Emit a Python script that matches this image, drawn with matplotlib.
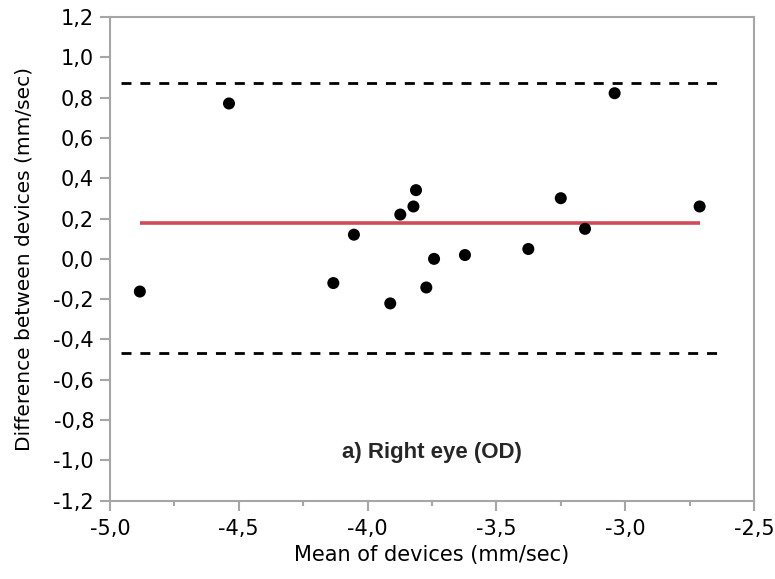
import matplotlib
matplotlib.use("Agg")
import matplotlib.pyplot as plt
from matplotlib.ticker import MultipleLocator, FuncFormatter

# Data
mean_devices = [-4.884, -4.538, -4.133, -4.053, -3.912, -3.873, -3.822, -3.812,
                -3.772, -3.742, -3.622, -3.376, -3.250, -3.156, -3.041, -2.711]
diff_devices = [-0.162, 0.771, -0.120, 0.120, -0.221, 0.220, 0.260, 0.341,
                -0.142, 0.000, 0.019, 0.049, 0.301, 0.149, 0.822, 0.260]
mean_diff = 0.178
upper_loa = 0.875
lower_loa = -0.465
loa_x_range = [-4.957, -2.615]

title_text = "a) Right eye (OD)"
xlabel_text = "Mean of devices (mm/sec)"
ylabel_text = "Difference between devices (mm/sec)"

fig = plt.figure(figsize=(7.75, 5.79), dpi=100)
ax = fig.add_axes([0.1419, 0.1352, 0.9729 - 0.1419, 0.9706 - 0.1352])

gray = "#a6a6a6"
ax.hlines([upper_loa, lower_loa], loa_x_range[0], loa_x_range[1],
          colors="black", linestyles=(0, (3.6, 3.2)), linewidth=2.0, zorder=2)
ax.hlines(mean_diff, min(mean_devices), max(mean_devices),
          colors="#d04a5a", linewidth=2.6, zorder=2)
ax.scatter(mean_devices, diff_devices, s=75, color="black", zorder=3,
           edgecolors="none")

ax.set_xlim(-5.0, -2.5)
ax.set_ylim(-1.2, 1.2)
ax.xaxis.set_major_locator(MultipleLocator(0.5))
ax.xaxis.set_minor_locator(MultipleLocator(0.25))
ax.yaxis.set_major_locator(MultipleLocator(0.2))

fmt = FuncFormatter(lambda v, p: (f"{v:.1f}").replace(".", ",").replace("-0,0", "0,0"))
ax.xaxis.set_major_formatter(fmt)
ax.yaxis.set_major_formatter(fmt)

for s in ax.spines.values():
    s.set_color(gray)
    s.set_linewidth(1.5)
ax.tick_params(which="both", direction="out", color=gray, width=1.5,
               labelsize=15, labelcolor="black")
ax.tick_params(which="major", length=7.5)
ax.tick_params(which="minor", length=3.5)
ax.tick_params(axis="x", pad=6)
ax.tick_params(axis="y", pad=4)

ax.set_xlabel(xlabel_text, fontsize=15, labelpad=4)
ax.set_ylabel(ylabel_text, fontsize=14.5, labelpad=14)

ax.text(0.5, 0.099, title_text, transform=ax.transAxes, ha="center", va="center",
        fontsize=16, fontweight="bold", family="Liberation Sans", color="#262626")

fig.savefig("out.png", dpi=100)
